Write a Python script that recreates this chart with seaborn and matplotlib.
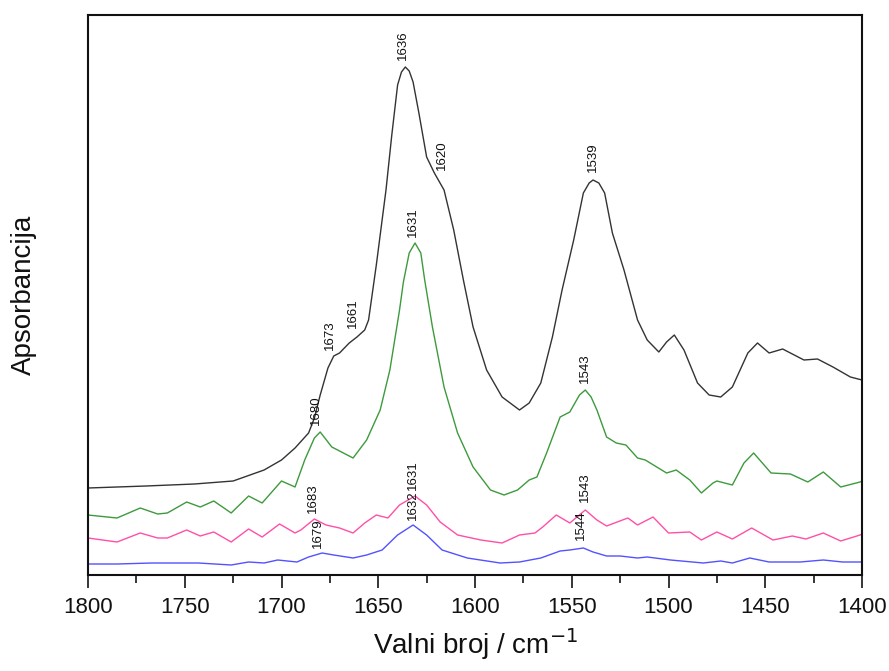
import matplotlib
matplotlib.use("Agg")
import matplotlib.pyplot as plt
from matplotlib.ticker import MultipleLocator
import seaborn as sns
import pandas as pd

# wavenumbers (cm-1) and absorbance (arbitrary units)
black_wn = [1800, 1770, 1745, 1725, 1709, 1700, 1693, 1686, 1683, 1680, 1676, 1673, 1670,
            1665, 1661, 1657, 1655, 1651, 1646, 1643, 1640, 1638, 1636, 1634, 1632, 1629,
            1625, 1621, 1616, 1611, 1606, 1601, 1594, 1586, 1577, 1572, 1566, 1560, 1555,
            1549, 1544, 1541, 1539, 1536, 1533, 1529, 1523, 1516, 1511, 1505, 1501, 1497,
            1492, 1485, 1479, 1473, 1467, 1459, 1454, 1448, 1441, 1430, 1423, 1415, 1406, 1400]
black_abs = [87, 89, 91, 94, 105, 115, 127, 142, 157, 180, 207, 219, 222,
             232, 238, 245, 255, 310, 385, 440, 490, 503, 508, 504, 493, 462,
             418, 402, 385, 345, 295, 248, 205, 178, 165, 172, 192, 238, 285,
             335, 382, 392, 395, 392, 382, 342, 305, 255, 235, 223, 233, 240,
             225, 192, 180, 178, 188, 222, 232, 222, 226, 215, 216, 208, 198, 195]

green_wn = [1800, 1785, 1773, 1764, 1759, 1749, 1742, 1735, 1726, 1717, 1710, 1700, 1693,
            1688, 1683, 1680, 1674, 1663, 1656, 1649, 1644, 1639, 1637, 1634, 1631, 1628,
            1626, 1622, 1616, 1609, 1601, 1592, 1585, 1578, 1572, 1568, 1563, 1556, 1551,
            1546, 1543, 1540, 1537, 1532, 1527, 1522, 1516, 1512, 1501, 1496, 1489, 1483,
            1477, 1475, 1467, 1461, 1456, 1447, 1437, 1428, 1420, 1411, 1401, 1400]
green_abs = [60, 57, 67, 61, 62, 73, 68, 74, 62, 79, 72, 94, 88,
             115, 137, 143, 128, 117, 135, 165, 205, 265, 293, 322, 332, 322,
             295, 248, 188, 142, 108, 85, 80, 85, 95, 98, 122, 158, 163,
             180, 185, 178, 165, 138, 132, 130, 117, 115, 102, 105, 95, 82,
             92, 94, 90, 112, 122, 102, 101, 93, 103, 88, 93, 94]

pink_wn = [1800, 1785, 1773, 1764, 1759, 1749, 1742, 1735, 1726, 1717, 1710, 1701, 1693,
           1690, 1683, 1677, 1670, 1663, 1657, 1651, 1645, 1639, 1631, 1625, 1618, 1609,
           1597, 1586, 1577, 1569, 1565, 1558, 1551, 1543, 1537, 1532, 1521, 1516, 1508,
           1500, 1489, 1483, 1475, 1467, 1457, 1446, 1436, 1429, 1420, 1411, 1401, 1400]
pink_abs = [37, 33, 42, 37, 37, 45, 39, 43, 33, 46, 38, 51, 42,
            45, 56, 50, 47, 42, 52, 60, 57, 70, 79, 70, 53, 40,
            35, 32, 40, 42, 48, 60, 52, 65, 55, 49, 57, 50, 58,
            42, 43, 35, 43, 36, 47, 35, 39, 36, 42, 34, 40, 41]

blue_wn = [1800, 1785, 1767, 1750, 1743, 1726, 1717, 1709, 1702, 1692, 1686, 1679, 1673,
           1663, 1656, 1648, 1640, 1632, 1625, 1617, 1604, 1587, 1577, 1566, 1556, 1551,
           1544, 1539, 1532, 1525, 1516, 1511, 1499, 1482, 1473, 1467, 1458, 1448, 1432,
           1420, 1410, 1400]
blue_abs = [11, 11, 12, 12, 12, 10, 13, 12, 15, 13, 18, 22, 20,
            17, 20, 25, 40, 50, 40, 25, 17, 12, 13, 17, 24, 25,
            27, 23, 19, 19, 17, 18, 15, 12, 14, 12, 17, 13, 13,
            15, 13, 13]

# peak labels: text, wavenumber position, height of label bottom
label_text = ["1636", "1620", "1539", "1673", "1661", "1631", "1680", "1543",
              "1683", "1631", "1543", "1679", "1632", "1544"]
label_wn = [1637, 1617, 1539, 1675, 1663, 1632, 1682, 1543,
            1684, 1632, 1543, 1681, 1632, 1545]
label_y = [515, 405, 403, 225, 247, 338, 150, 192,
           62, 85, 73, 27, 55, 35]

series = [
    (black_wn, black_abs, "#333333"),
    (green_wn, green_abs, "#3d9a3d"),
    (pink_wn, pink_abs, "#ff4fa8"),
    (blue_wn, blue_abs, "#5252ff"),
]

sns.set_style("ticks")
plt.rcParams["font.family"] = ["Liberation Sans", "DejaVu Sans"]

fig = plt.figure(figsize=(8.89, 6.71), dpi=100)
ax = fig.add_axes([88 / 889, 1 - 575 / 671, 774 / 889, 560 / 671])

for wn, ab, col in series:
    df = pd.DataFrame({"wn": wn, "abs": ab})
    sns.lineplot(data=df, x="wn", y="abs", color=col, linewidth=1.0, ax=ax)

for t, x, y in zip(label_text, label_wn, label_y):
    ax.text(x, y, t, rotation=90, ha="center", va="bottom", fontsize=9.5, color="#111111")

ax.set_xlim(1800, 1400)
ax.set_ylim(0, 560)
ax.xaxis.set_major_locator(MultipleLocator(50))
ax.xaxis.set_minor_locator(MultipleLocator(25))
ax.tick_params(axis="x", which="major", direction="out", length=9.5, width=1.3,
               labelsize=16, pad=6, top=False, labelcolor="#111111")
ax.tick_params(axis="x", which="minor", direction="out", length=5.5, width=1.3, top=False)
ax.tick_params(axis="y", left=False, labelleft=False)
for s in ax.spines.values():
    s.set_linewidth(1.5)
    s.set_color("#111111")

ax.set_xlabel("Valni broj / cm$^{-1}$", fontsize=20, labelpad=6, color="#111111")
ax.set_ylabel("Apsorbancija", fontsize=20, color="#111111")
ax.yaxis.set_label_coords(-0.066, 0.5)

fig.savefig("out.png", dpi=100)
